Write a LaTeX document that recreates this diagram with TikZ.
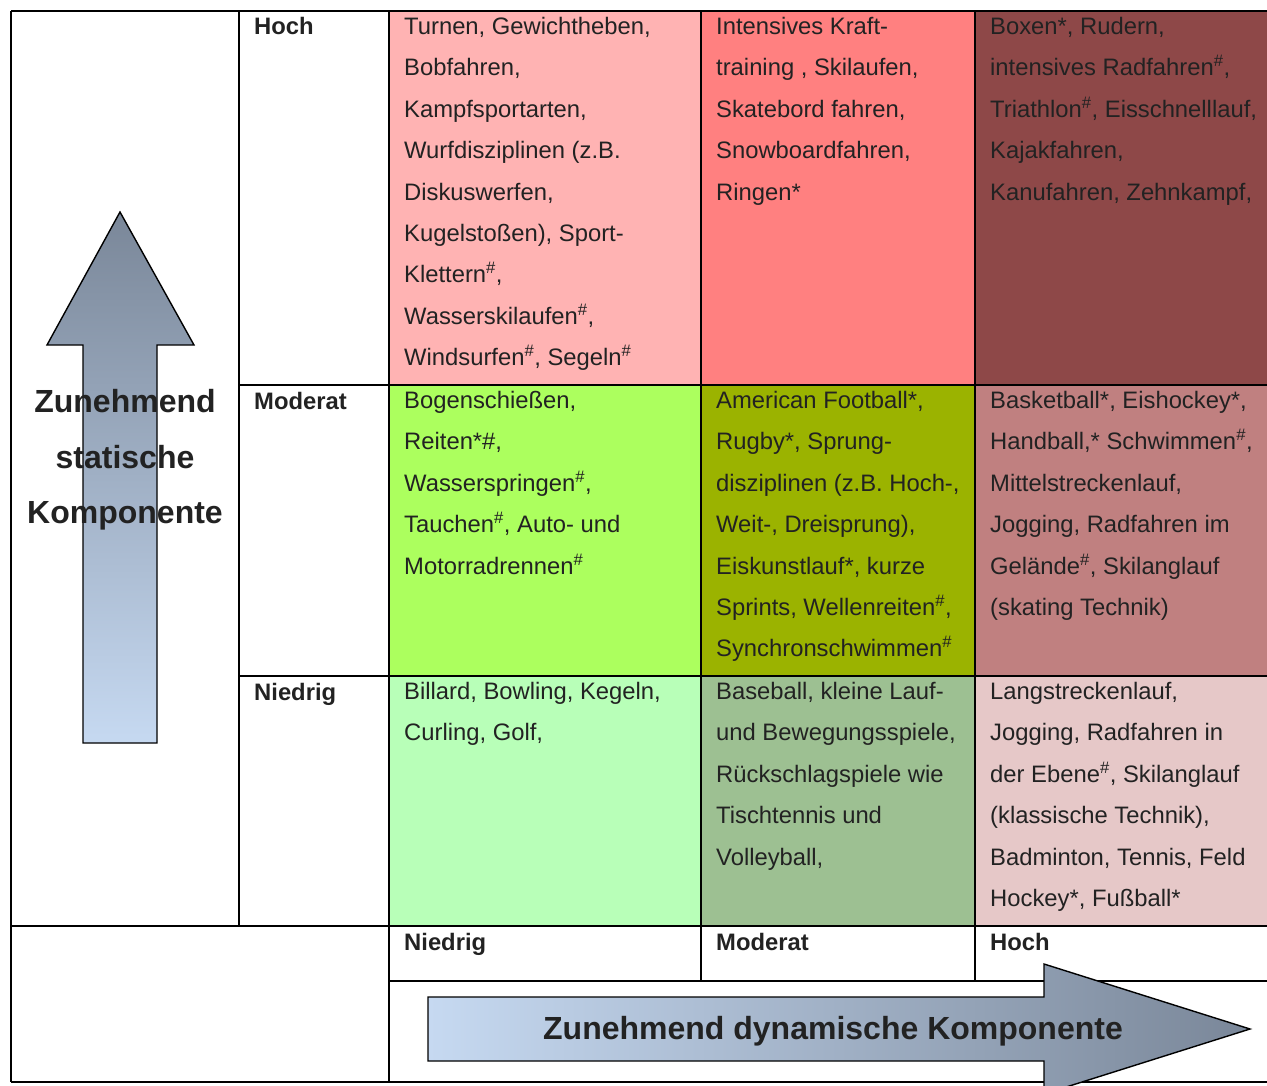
\documentclass[tikz,border=0pt]{standalone}
\usepackage{fontspec}
\setmainfont{Liberation Sans}
\usetikzlibrary{positioning}
\definecolor{txtgray}{HTML}{222222}
\definecolor{cHN}{HTML}{FFB3B3}
\definecolor{cHM}{HTML}{FF8080}
\definecolor{cHH}{HTML}{8E4848}
\definecolor{cMN}{HTML}{ACFF5E}
\definecolor{cMM}{HTML}{9BB300}
\definecolor{cMH}{HTML}{C08080}
\definecolor{cNN}{HTML}{B8FFB8}
\definecolor{cNM}{HTML}{9DC092}
\definecolor{cNH}{HTML}{E6C8C8}
\definecolor{arrdark}{HTML}{7A8799}
\definecolor{arrlight}{HTML}{C6D9F1}
\begin{document}
\begin{tikzpicture}[x=1pt,y=-1pt,
  cell/.style={anchor=north west,inner sep=0pt,outer sep=0pt},
  grid/.style={line width=2.7pt,black},
  txt/.style={anchor=north west,inner sep=0pt,align=left,text=txtgray,font=\fontsize{23.8}{41.4}\selectfont,execute at begin node={\strut}},
  lvl/.style={anchor=base west,inner sep=0pt,text=txtgray,font=\fontsize{23.8}{28}\selectfont\bfseries},
  arr/.style={draw=black,line width=1.4pt},
  big/.style={text=txtgray,font=\fontsize{32}{55.5}\selectfont\bfseries,align=center}]
\useasboundingbox (0,0) rectangle (1267,1086);
% cells
\node[cell,fill=cHN,minimum width=312pt,minimum height=374pt] (hn) at (389,11) {};
\node[cell,fill=cHM,minimum width=274pt,minimum height=374pt] (hm) at (701,11) {};
\node[cell,fill=cHH,minimum width=292pt,minimum height=374pt] (hh) at (975,11) {};
\node[cell,fill=cMN,minimum width=312pt,minimum height=291pt] (mn) at (389,385) {};
\node[cell,fill=cMM,minimum width=274pt,minimum height=291pt] (mm) at (701,385) {};
\node[cell,fill=cMH,minimum width=292pt,minimum height=291pt] (mh) at (975,385) {};
\node[cell,fill=cNN,minimum width=312pt,minimum height=250pt] (nn) at (389,676) {};
\node[cell,fill=cNM,minimum width=274pt,minimum height=250pt] (nm) at (701,676) {};
\node[cell,fill=cNH,minimum width=292pt,minimum height=250pt] (nh) at (975,676) {};
% grid
\draw[grid] (11,11) -- (1267,11);
\draw[grid] (239,385) -- (1267,385);
\draw[grid] (239,676) -- (1267,676);
\draw[grid] (11,926) -- (1267,926);
\draw[grid] (389,981) -- (1267,981);
\draw[grid] (11,1082) -- (1267,1082);
\draw[grid] (11,11) -- (11,1082);
\draw[grid] (239,11) -- (239,926);
\draw[grid] (389,11) -- (389,1082);
\draw[grid] (701,11) -- (701,981);
\draw[grid] (975,11) -- (975,981);
% arrows
\shade[arr,top color=arrdark,bottom color=arrlight] (120,212) -- (194,345) -- (157,345) -- (157,743)
  -- (83,743) -- (83,345) -- (47,345) -- cycle;
\shade[arr,left color=arrlight,right color=arrdark] (1250,1029) -- (1044,1094) -- (1044,1061) -- (428,1061)
  -- (428,997) -- (1044,997) -- (1044,964) -- cycle;
\node[big] (stat) at (125,460) {Zunehmend\\statische\\Komponente};
\node[big] (dyn) at (833,1031) {Zunehmend dynamische Komponente};
% levels
\node[lvl] (sH) at (254,35) {Hoch};
\node[lvl] (sM) at (254,409) {Moderat};
\node[lvl] (sN) at (254,700) {Niedrig};
\node[lvl] (dN) at (404,950) {Niedrig};
\node[lvl] (dM) at (716,950) {Moderat};
\node[lvl] (dH) at (990,950) {Hoch};
% sports
\node[txt] (hnT) at ([xshift=15pt,yshift=-6pt]hn.north west) {Turnen, Gewichtheben,\\Bobfahren,\\Kampfsportarten,\\Wurfdisziplinen (z.B.\\Diskuswerfen,\\Kugelstoßen), Sport-\\Klettern\textsuperscript{\#},\\Wasserskilaufen\textsuperscript{\#},\\Windsurfen\textsuperscript{\#}, Segeln\textsuperscript{\#}};
\node[txt] (hmT) at ([xshift=15pt,yshift=-6pt]hm.north west) {Intensives Kraft-\\training , Skilaufen,\\Skatebord fahren,\\Snowboardfahren,\\Ringen*};
\node[txt] (hhT) at ([xshift=15pt,yshift=-6pt]hh.north west) {Boxen*, Rudern,\\intensives Radfahren\textsuperscript{\#},\\Triathlon\textsuperscript{\#}, Eisschnelllauf,\\Kajakfahren,\\Kanufahren, Zehnkampf,};
\node[txt] (mnT) at ([xshift=15pt,yshift=-6pt]mn.north west) {Bogenschießen,\\Reiten*\#,\\Wasserspringen\textsuperscript{\#},\\Tauchen\textsuperscript{\#}, Auto- und\\Motorradrennen\textsuperscript{\#}};
\node[txt] (mmT) at ([xshift=15pt,yshift=-6pt]mm.north west) {American Football*,\\Rugby*, Sprung-\\disziplinen (z.B. Hoch-,\\Weit-, Dreisprung),\\Eiskunstlauf*, kurze\\Sprints, Wellenreiten\textsuperscript{\#},\\Synchronschwimmen\textsuperscript{\#}};
\node[txt] (mhT) at ([xshift=15pt,yshift=-6pt]mh.north west) {Basketball*, Eishockey*,\\Handball,* Schwimmen\textsuperscript{\#},\\Mittelstreckenlauf,\\Jogging, Radfahren im\\Gelände\textsuperscript{\#}, Skilanglauf\\(skating Technik)};
\node[txt] (nnT) at ([xshift=15pt,yshift=-6pt]nn.north west) {Billard, Bowling, Kegeln,\\Curling, Golf,};
\node[txt] (nmT) at ([xshift=15pt,yshift=-6pt]nm.north west) {Baseball, kleine Lauf-\\und Bewegungsspiele,\\Rückschlagspiele wie\\Tischtennis und\\Volleyball,};
\node[txt] (nhT) at ([xshift=15pt,yshift=-6pt]nh.north west) {Langstreckenlauf,\\Jogging, Radfahren in\\der Ebene\textsuperscript{\#}, Skilanglauf\\(klassische Technik),\\Badminton, Tennis, Feld\\Hockey*, Fußball*};
\end{tikzpicture}
\end{document}
